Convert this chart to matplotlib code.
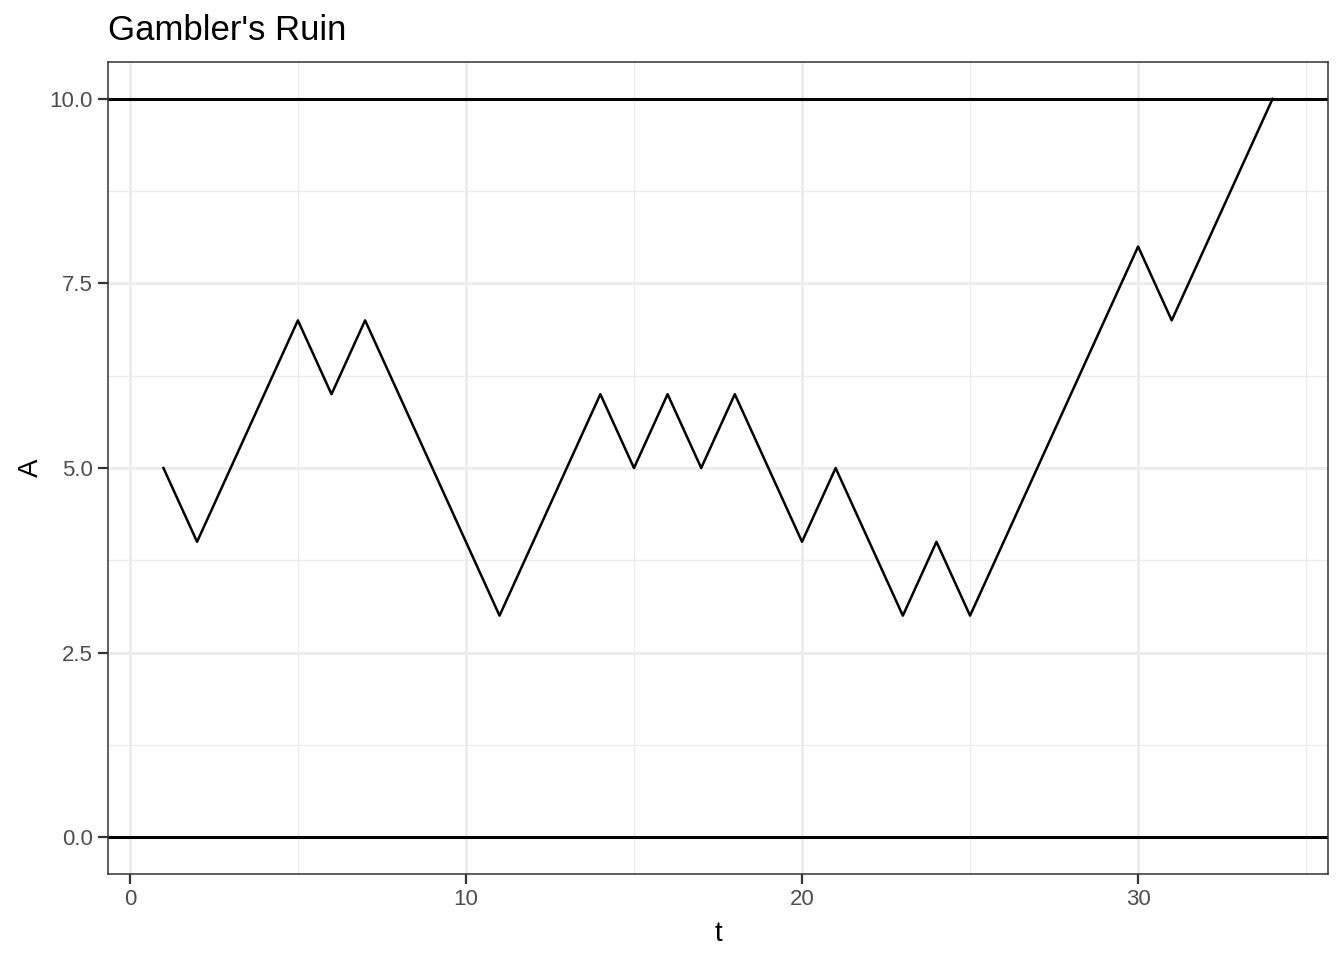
import matplotlib
matplotlib.use("Agg")
import matplotlib.pyplot as plt
from matplotlib.ticker import MultipleLocator

t = list(range(1, 35))
A = [5, 4, 5, 6, 7, 6, 7, 6, 5, 4, 3, 4, 5, 6, 5, 6, 5, 6, 5, 4,
     5, 4, 3, 4, 3, 4, 5, 6, 7, 8, 7, 8, 9, 10]
bounds = [0, 10]
x_ticks = [0, 10, 20, 30]
y_ticks = [0.0, 2.5, 5.0, 7.5, 10.0]
y_labels = ["0.0", "2.5", "5.0", "7.5", "10.0"]

plt.rcParams['font.family'] = ['Liberation Sans', 'DejaVu Sans']

fig = plt.figure(figsize=(13.44, 9.6), dpi=100)
ax = fig.add_axes([108/1344, 1 - 874/960, (1328-108)/1344, (874-62)/960])

ax.set_xlim(-0.65, 35.65)
ax.set_ylim(-0.5, 10.5)

ax.set_xticks(x_ticks)
ax.set_yticks(y_ticks)
ax.set_yticklabels(y_labels)
ax.xaxis.set_minor_locator(MultipleLocator(5))
ax.yaxis.set_minor_locator(MultipleLocator(1.25))

ax.grid(which='major', color='#EBEBEB', linewidth=2.0)
ax.grid(which='minor', color='#EBEBEB', linewidth=1.0)
ax.set_axisbelow(True)
ax.tick_params(which='minor', length=0)
ax.tick_params(which='major', length=7, width=1.6, color='#333333',
               labelsize=16, labelcolor='#4D4D4D', pad=4)

for s in ax.spines.values():
    s.set_color('#333333')
    s.set_linewidth(1.1)

for b in bounds:
    ax.axhline(b, color='black', linewidth=2.2, zorder=2)

ax.plot(t, A, color='black', linewidth=1.8, zorder=3)

ax.set_xlabel('t', fontsize=20, labelpad=8)
ax.set_ylabel('A', fontsize=20, labelpad=4)
ax.set_title("Gambler's Ruin", fontsize=25, loc='left', pad=16)

fig.savefig('out.png', dpi=100)
